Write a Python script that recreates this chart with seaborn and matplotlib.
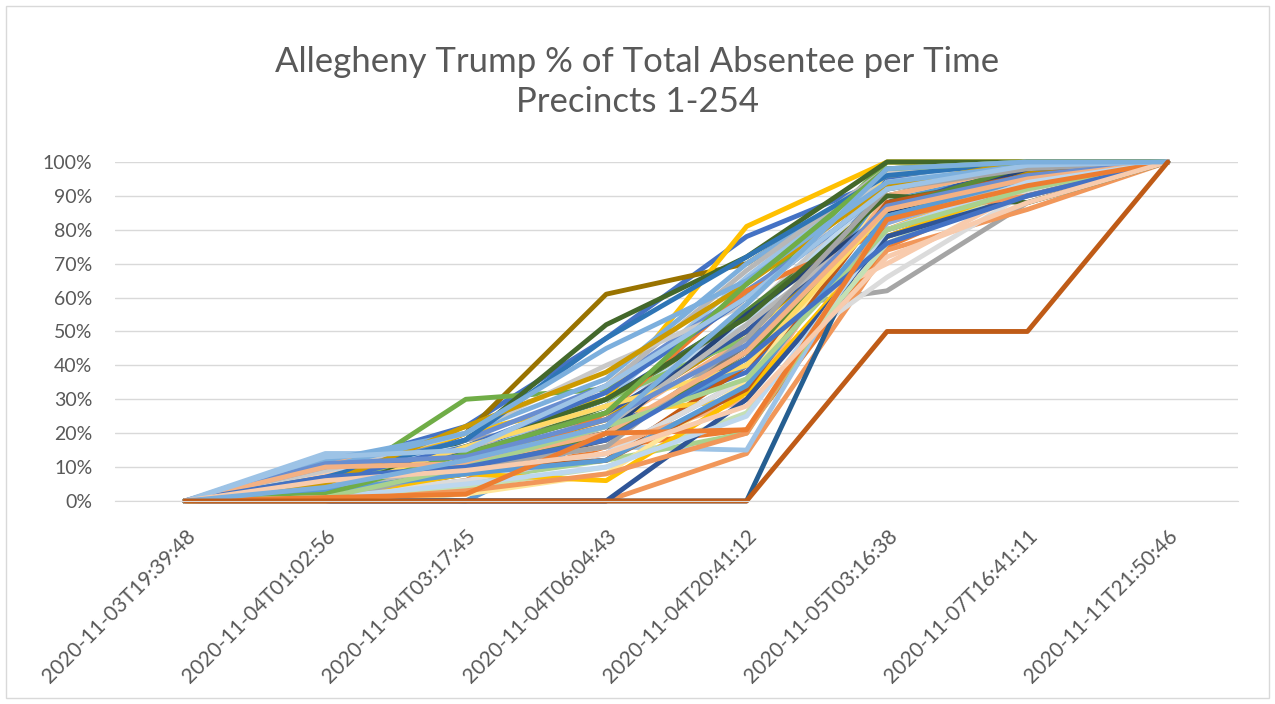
import pandas as pd
import matplotlib
matplotlib.use("Agg")
from matplotlib import pyplot as plt
from matplotlib.patches import Rectangle
from matplotlib.ticker import FuncFormatter
import seaborn as sb

# time stamps of the absentee updates
times = ["2020-11-03T19:39:48", "2020-11-04T01:02:56", "2020-11-04T03:17:45",
         "2020-11-04T06:04:43", "2020-11-04T20:41:12", "2020-11-05T03:16:38",
         "2020-11-07T16:41:11", "2020-11-11T21:50:46"]

# cumulative Trump % of total absentee, one row per precinct
blue_rows = [[0, 10, 22, 48, 78, 95, 100, 100],
             [0, 5, 15, 30, 55, 88, 97, 100],
             [0, 8, 18, 34, 62, 90, 98, 100],
             [0, 2, 12, 22, 38, 80, 92, 100],
             [0, 0, 6, 14, 36, 82, 95, 100],
             [0, 4, 14, 26, 50, 86, 100, 100],
             [0, 3, 12, 20, 55, 85, 98, 100],
             [0, 6, 16, 32, 60, 92, 100, 100],
             [0, 0, 0, 0, 30, 78, 90, 100],
             [0, 11, 13, 24, 46, 87, 96, 100],
             [0, 7, 10, 18, 42, 76, 90, 100]]
blue_cols = ["#4472C4", "#2F5597", "#698ED0", "#4472C4", "#8FAADC",
             "#335AA1", "#264478", "#4472C4", "#2F5597", "#698ED0", "#4472C4"]

orange_rows = [[0, 3, 4, 16, 21, 75, 93, 100],
               [0, 12, 14, 22, 48, 92, 100, 100],
               [0, 0, 0, 0, 14, 74, 86, 100],
               [0, 2, 8, 12, 40, 78, 92, 100],
               [0, 8, 12, 24, 50, 70, 92, 100],
               [0, 1, 6, 26, 62, 80, 94, 100],
               [0, 4, 10, 16, 30, 90, 99, 100],
               [0, 2, 9, 12, 33, 88, 96, 100],
               [0, 0, 3, 8, 20, 84, 90, 100],
               [0, 10, 11, 20, 44, 86, 95, 100],
               [0, 1, 2, 20, 21, 83, 93, 100],
               [0, 6, 9, 14, 28, 72, 88, 100]]
orange_cols = ["#ED7D31", "#F4B183", "#F1975A", "#C55A11", "#F8CBAD",
               "#ED7D31", "#F4B183", "#BE5B1A", "#F1975A", "#F4B183",
               "#ED7D31", "#F8CBAD"]

gray_rows = [[0, 2, 18, 24, 56, 62, 88, 100],
             [0, 4, 16, 28, 55, 94, 97, 100],
             [0, 3, 12, 18, 46, 90, 100, 100],
             [0, 6, 14, 34, 68, 98, 100, 100],
             [0, 1, 8, 18, 44, 86, 99, 100],
             [0, 2, 6, 14, 36, 66, 91, 100],
             [0, 9, 20, 40, 58, 97, 100, 100],
             [0, 5, 8, 22, 52, 84, 94, 100],
             [0, 0, 10, 16, 48, 92, 98, 100]]
gray_cols = ["#A5A5A5", "#C9C9C9", "#7B7B7B", "#B7B7B7", "#636363",
             "#DBDBDB", "#C9C9C9", "#B7B7B7", "#A5A5A5"]

gold_rows = [[0, 3, 20, 61, 70, 96, 100, 100],
             [0, 6, 20, 30, 81, 100, 100, 100],
             [0, 2, 10, 18, 44, 97, 100, 100],
             [0, 4, 14, 26, 30, 80, 96, 100],
             [0, 3, 12, 24, 50, 84, 97, 100],
             [0, 0, 2, 8, 35, 90, 99, 100],
             [0, 1, 8, 6, 32, 78, 93, 100],
             [0, 5, 22, 38, 64, 93, 100, 100],
             [0, 2, 16, 28, 40, 86, 95, 100]]
gold_cols = ["#997300", "#FFC000", "#FFD966", "#FFCD33", "#BF9000",
             "#FFE699", "#FFC000", "#CC9A00", "#FFD966"]

lblue_rows = [[0, 14, 14, 30, 66, 98, 100, 100],
              [0, 12, 20, 36, 70, 96, 100, 100],
              [0, 6, 10, 16, 15, 85, 96, 100],
              [0, 2, 0, 20, 40, 90, 97, 100],
              [0, 9, 16, 28, 52, 94, 100, 100],
              [0, 0, 0, 0, 0, 88, 95, 100],
              [0, 7, 18, 48, 72, 96, 100, 100],
              [0, 10, 20, 45, 65, 94, 99, 100],
              [0, 3, 8, 12, 34, 84, 95, 100],
              [0, 1, 5, 10, 25, 80, 94, 100],
              [0, 13, 15, 34, 60, 92, 99, 100],
              [0, 4, 12, 22, 58, 98, 100, 100]]
lblue_cols = ["#9DC3E6", "#7CAFDD", "#9DC3E6", "#5B9BD5", "#BDD7EE",
              "#255E91", "#2E75B6", "#7CAFDD", "#5B9BD5", "#BDD7EE",
              "#9DC3E6", "#7CAFDD"]

green_rows = [[0, 3, 30, 33, 60, 100, 100, 100],
              [0, 4, 18, 52, 72, 100, 100, 100],
              [0, 2, 12, 28, 56, 88, 98, 100],
              [0, 1, 6, 12, 20, 82, 96, 100],
              [0, 5, 16, 30, 48, 92, 100, 100],
              [0, 0, 4, 10, 26, 76, 93, 100],
              [0, 3, 16, 30, 54, 90, 88, 100],
              [0, 2, 9, 20, 42, 86, 99, 100],
              [0, 2, 14, 26, 64, 98, 100, 100],
              [0, 1, 10, 22, 36, 80, 92, 100]]
green_cols = ["#70AD47", "#43682B", "#548235", "#A9D18E", "#8CC168",
              "#C5E0B4", "#43682B", "#5A8A38", "#70AD47", "#A9D18E"]

# the one precinct stuck at 0% then 50%
outlier_row = [0, 0, 0, 0, 0, 50, 50, 100]
outlier_col = "#BF5B17"

####################################################################################################################
# build long table, cycling through colour groups like Excel does
groups = [(blue_rows, blue_cols), (orange_rows, orange_cols), (gray_rows, gray_cols),
          (gold_rows, gold_cols), (lblue_rows, lblue_cols), (green_rows, green_cols)]
records = []
palette = {}
k = 0
for i in range(max(len(g[0]) for g in groups)):
    for rows, cols in groups:
        if i < len(rows):
            name = "p%03d" % k
            palette[name] = cols[i]
            for t, v in zip(times, rows[i]):
                records.append((name, t, v))
            k += 1
name = "p%03d" % k
palette[name] = outlier_col
for t, v in zip(times, outlier_row):
    records.append((name, t, v))
df = pd.DataFrame(records, columns=["precinct", "time", "pct"])

####################################################################################################################
# plot
sb.set_style("white")
plt.rcParams["font.family"] = ["Lato", "DejaVu Sans"]
grey_txt = "#595959"

fig = plt.figure(figsize=(12.75, 7.04), dpi=100)
ax = fig.add_axes([0.090, 0.2884, 0.881, 0.4815])

sb.lineplot(data=df, x="time", y="pct", hue="precinct", hue_order=list(palette.keys()),
            palette=palette, legend=False, linewidth=3.5, sort=False, estimator=None, ax=ax)
for ln in ax.lines:
    ln.set_clip_on(False)
    ln.set_solid_joinstyle("round")

ax.set_xlim(-0.5, len(times) - 0.5)
ax.set_ylim(0, 100)
ax.set_yticks(range(0, 101, 10))
ax.yaxis.set_major_formatter(FuncFormatter(lambda v, p: "%d%%" % v))
ax.yaxis.grid(True, color="#D9D9D9", lw=1)
ax.set_axisbelow(True)
for s in ["top", "right", "left"]:
    ax.spines[s].set_visible(False)
ax.spines["bottom"].set_color("#D9D9D9")
ax.set_xlabel("")
ax.set_ylabel("")
ax.tick_params(axis="both", length=0, labelcolor=grey_txt)
ax.tick_params(axis="y", pad=16, labelsize=14)
ax.tick_params(axis="x", pad=18, labelsize=15)
plt.setp(ax.get_xticklabels(), rotation=45, ha="right", rotation_mode="anchor")

fig.text(0.5, 1 - 62 / 704, "Allegheny Trump % of Total Absentee per Time",
         ha="center", va="center", fontsize=25, color=grey_txt)
fig.text(0.5, 1 - 102 / 704, "Precincts 1-254", ha="center", va="center",
         fontsize=25, color=grey_txt)

# chart area border
fig.patches.append(Rectangle((6 / 1275, 6 / 704), 1 - 12 / 1275, 1 - 12 / 704,
                             transform=fig.transFigure, fill=False, ec="#D9D9D9", lw=1))

plt.savefig("out.png", dpi=100)
plt.close()
